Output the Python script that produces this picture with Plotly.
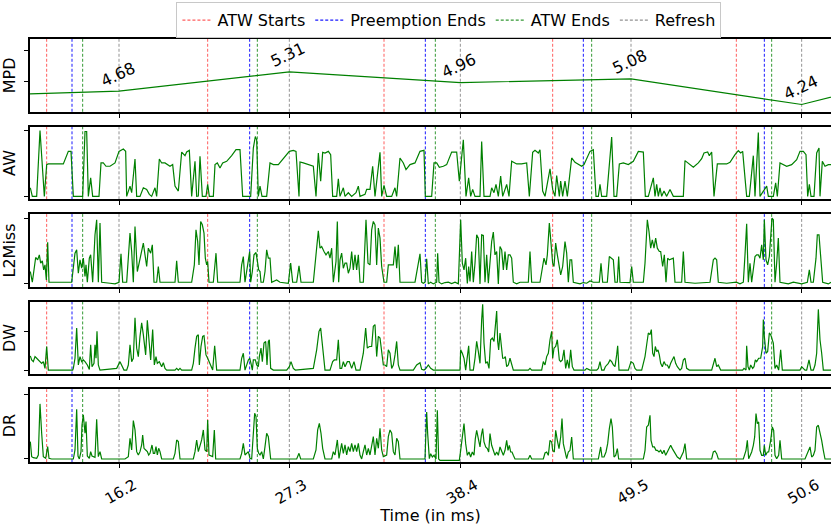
import plotly.graph_objects as go
from plotly.subplots import make_subplots

# ---- x axis: sample index, labelled in ms at each refresh ----
X_RANGE = [0, 2403]
TICK_IDX = [267, 778, 1291, 1803, 2315]
TICK_TEXT = ["16.2", "27.3", "38.4", "49.5", "50.6"]

# ---- event markers (sample index) ----
ATW_START = [50, 533, 1062, 1568, 2119]
PREEMPT_END = [126, 659, 1186, 1660, 2203]
ATW_END = [158, 682, 1216, 1685, 2225]
REFRESH = [267, 778, 1291, 1803, 2315]

# ---- MPD per refresh ----
MPD_IDX = [-245, 267, 778, 1291, 1803, 2315, 2827]
MPD_VAL = [4.51, 4.68, 5.31, 4.96, 5.08, 4.24, 5.65]

# ---- AW (active warps) ----
AW_IDX = [1, 7, 20, 30, 43, 50, 55, 100, 115, 123, 130, 158, 165, 170, 175, 182, 188, 207, 213, 220,
          228, 240, 255, 267, 280, 287, 290, 300, 305, 315, 320, 330, 340, 350, 358, 365, 375, 380, 388, 395,
          405, 420, 428, 435, 445, 455, 465, 470, 478, 485, 495, 500, 505, 510, 517, 528, 533, 538, 550, 555,
          562, 570, 578, 590, 605, 618, 630, 638, 662, 670, 676, 680, 685, 690, 696, 710, 720, 730, 745, 765,
          778, 790, 798, 807, 810, 820, 835, 850, 858, 865, 872, 878, 885, 895, 902, 908, 920, 925, 930, 940,
          945, 955, 965, 978, 985, 990, 1005, 1010, 1020, 1028, 1035, 1042, 1050, 1055, 1062, 1070, 1085, 1095,
          1100, 1110, 1120, 1128, 1135,
          1140, 1155, 1170, 1182, 1186, 1205, 1212, 1220, 1228, 1240, 1250, 1265, 1280, 1288, 1292, 1300, 1308,
          1316, 1322, 1328, 1335, 1350, 1355, 1362, 1380, 1385, 1392, 1398, 1405, 1412, 1418, 1430, 1437, 1445,
          1460, 1475, 1490, 1498, 1508, 1515, 1525, 1530, 1538, 1545, 1560, 1568, 1575, 1580, 1588, 1592, 1598,
          1605, 1612, 1625, 1635, 1645, 1655, 1662, 1670, 1680, 1690, 1698, 1705, 1710, 1715, 1730, 1745, 1752,
          1760, 1768, 1780, 1795, 1810, 1825, 1840, 1846, 1855, 1870, 1875, 1880, 1885, 1890, 1895, 1902, 1910,
          1920, 1930, 1960, 1965, 1978, 1990, 2005, 2015, 2022, 2033, 2038, 2045, 2052, 2062, 2090, 2100, 2115,
          2125, 2132, 2138, 2145, 2150, 2158, 2170, 2175, 2185, 2190, 2198, 2203, 2210, 2215, 2230, 2237, 2242,
          2250, 2258, 2270, 2285, 2300, 2310, 2320, 2328, 2333, 2338, 2343, 2352, 2360, 2367, 2370, 2377, 2385,
          2395, 2403]
AW_VAL = [26, 0, 0, 199, 0, 96, 98, 98, 136, 136, 0, 0, 196, 196, 0, 56, 0, 0, 101, 101,
          91, 91, 101, 136, 143, 136, 0, 31, 11, 113, 0, 0, 26, 21, 6, 0, 26, 0, 113, 101,
          101, 91, 96, 31, 16, 134, 123, 134, 139, 0, 106, 0, 1, 121, 0, 0, 36, 0, 0, 96,
          101, 86, 101, 106, 123, 141, 141, 0, 0, 146, 181, 171, 0, 31, 0, 0, 101, 96, 96, 121,
          136, 139, 136, 0, 104, 101, 96, 91, 0, 131, 46, 133, 131, 136, 126, 0, 0, 53, 0, 26,
          0, 11, 0, 11, 31, 0, 6, 21, 21, 91, 0, 71, 133, 0, 33, 0, 0, 26,
          0, 116, 101, 81, 91,
          96, 101, 136, 139, 0, 0, 101, 101, 88, 91, 96, 134, 134, 46, 86, 171, 0,
          56, 0, 21, 0, 0, 166, 0, 0, 26, 11, 36, 0, 61, 0, 36, 0, 106,
          98, 98, 101, 0, 133, 139, 131, 141, 16, 0, 83, 21, 0, 63, 0, 46, 0,
          46, 0, 116, 103, 96, 91, 96, 116, 136, 141, 0, 0, 36, 0, 0, 179, 0,
          0, 98, 101, 96, 106, 136, 134, 0, 0, 56, 0, 36, 0, 26, 0, 16, 0,
          21, 0, 0, 108, 98, 88, 101, 114, 131, 134, 123, 134, 0, 98, 98, 103, 126,
          138, 131, 136, 56, 0, 0, 123, 0, 193, 0, 13, 23, 31, 0, 0, 41, 0,
          101, 96, 91, 96, 111, 136, 136, 126, 0, 36, 0, 0, 131, 146, 0, 106, 91,
          96, 96]

# ---- L2 misses ----
L2_IDX = [1, 7, 17, 23, 28, 32, 37, 41, 45, 49, 53, 57, 125, 128, 135, 140, 145, 150, 155, 160,
          165, 168, 172, 178, 182, 188, 195, 200, 205, 210, 215, 240, 255, 267, 273, 278, 290, 300, 305, 310,
          315, 322, 330, 335, 340, 345, 350, 355, 362, 367, 372, 380, 385, 390, 435, 440, 445, 485, 493, 498,
          503, 507, 512, 517, 522, 526, 530, 533, 537, 550, 558, 563, 630, 635, 640, 645, 655, 659, 662, 667,
          672, 678, 683, 686, 690, 693, 700, 705, 710, 715, 720, 725, 740, 750, 775, 782, 788, 800, 807, 813,
          850, 858, 865, 870, 875, 882, 888, 895, 900, 905, 910, 918, 922, 926, 930, 935, 940, 945, 950, 955,
          960, 965, 970, 975, 980, 985, 990, 1000, 1008, 1014, 1020, 1025, 1030, 1035, 1040, 1045, 1050, 1055,
          1062, 1070, 1075, 1090, 1095, 1100, 1105, 1110, 1140,
          1155, 1170, 1175, 1180, 1185, 1190, 1195, 1202, 1210, 1220, 1223, 1227, 1235, 1245, 1255, 1265, 1275,
          1285, 1292, 1297, 1302, 1307, 1312, 1316, 1320, 1325, 1330, 1335, 1340, 1345, 1350, 1355, 1360, 1365,
          1370, 1375, 1380, 1385, 1390, 1395, 1400, 1405, 1410, 1415, 1420, 1425, 1430, 1435, 1440, 1445, 1450,
          1460, 1470, 1495, 1500, 1505, 1530, 1538, 1542, 1548, 1552, 1558, 1563, 1568, 1572, 1577, 1582, 1587,
          1592, 1598, 1605, 1610, 1615, 1620, 1625, 1630, 1650, 1660, 1670, 1680, 1690, 1708, 1713, 1718, 1732,
          1738, 1745, 1750, 1755, 1762, 1766, 1770, 1800, 1805, 1810, 1840, 1845, 1852, 1857, 1862, 1867, 1872,
          1877, 1882, 1888, 1892, 1898, 1903, 1908, 1913, 1918, 1930, 1935, 1955, 1960, 1965, 1995, 2040, 2050,
          2055, 2060, 2065, 2090, 2119, 2130, 2140, 2145, 2150, 2155, 2160, 2165, 2175, 2180, 2185, 2190, 2195,
          2200, 2203, 2208, 2213, 2218, 2222, 2226, 2230, 2235, 2240, 2245, 2250, 2275, 2290, 2315, 2332, 2338,
          2343, 2350, 2358, 2362, 2367, 2372, 2378, 2395, 2403]
L2_VAL = [37, 5, 79, 72, 87, 62, 69, 42, 57, 12, 125, 5, 5, 32, 92, 102, 32, 72, 47, 77,
          22, 57, 5, 77, 87, 5, 147, 192, 5, 182, 5, 2, 0, 5, 90, 5, 5, 152, 97, 5,
          172, 37, 77, 97, 122, 87, 52, 107, 92, 117, 5, 5, 52, 5, 5, 69, 5, 5, 57, 162,
          127, 57, 187, 177, 152, 77, 57, 67, 5, 5, 92, 5, 5, 57, 82, 5, 77, 97, 5, 37,
          87, 94, 62, 42, 37, 5, 5, 37, 102, 77, 77, 5, 12, 5, 2, 62, 5, 5, 54, 5,
          5, 97, 159, 107, 112, 97, 87, 97, 77, 107, 5, 67, 187, 5, 72, 92, 47, 62, 62, 32,
          47, 97, 42, 87, 42, 87, 5, 5, 192, 62, 57, 162, 187, 177, 57, 167, 137, 52,
          5, 5, 57, 57, 112, 47, 117, 5, 5,
          5, 90, 5, 2, 5, 75, 0, 5, 0, 5, 92, 5, 0, 4, 5, 1, 5,
          0, 192, 62, 42, 77, 1, 52, 7, 97, 5, 62, 147, 137, 0, 147, 145, 5,
          87, 2, 62, 127, 155, 87, 97, 0, 112, 102, 42, 97, 42, 87, 87, 77, 5,
          0, 5, 5, 97, 5, 5, 47, 77, 57, 87, 182, 117, 62, 52, 122, 87, 52,
          27, 52, 127, 92, 5, 72, 72, 5, 0, 4, 2, 9, 5, 5, 62, 5, 5,
          82, 77, 72, 5, 5, 82, 5, 4, 52, 5, 5, 62, 192, 157, 107, 132, 107,
          137, 107, 97, 97, 52, 87, 5, 77, 72, 77, 5, 5, 97, 5, 2, 5, 72,
          77, 72, 5, 2, 5, 0, 5, 87, 180, 5, 62, 5, 82, 87, 87, 77, 117,
          72, 192, 72, 57, 82, 157, 197, 192, 5, 62, 137, 5, 0, 5, 0, 5, 42,
          5, 5, 77, 147, 147, 87, 5, 0, 5]

# ---- DRAM writes ----
DW_IDX = [1, 5, 10, 15, 20, 25, 30, 35, 40, 45, 50, 55, 128, 130, 135, 140, 145, 150, 155, 160,
          165, 172, 178, 182, 186, 192, 195, 198, 201, 205, 210, 260, 270, 275, 282, 290, 295, 300, 305, 310,
          315, 320, 325, 330, 335, 340, 347, 352, 357, 362, 368, 373, 378, 382, 388, 395, 400, 405, 410, 435,
          440, 445, 450, 455, 485, 490, 495, 500, 505, 508, 513, 518, 522, 528, 533, 537, 542, 548, 554, 560,
          630, 635, 640, 645, 655, 659, 663, 667, 670, 676, 680, 685, 688, 693, 697, 702, 707, 711, 715, 718,
          722, 730, 770, 778, 783, 790, 796, 850, 860, 867, 872, 878, 885, 900, 908, 913, 920, 925, 930, 935,
          940, 945, 952, 958, 965, 972, 978, 990, 1000, 1007, 1012, 1018, 1025, 1030, 1035, 1040, 1045, 1050,
          1055, 1060, 1065, 1070, 1075, 1080, 1085, 1090, 1095, 1100, 1105, 1110, 1140,
          1150, 1160, 1170, 1175, 1182, 1188, 1195, 1202, 1210, 1290, 1292, 1297, 1302, 1307, 1312, 1316, 1320,
          1330, 1335, 1340, 1345, 1350, 1355, 1358, 1362, 1367, 1372, 1377, 1382, 1387, 1392, 1397, 1400, 1403,
          1406, 1410, 1414, 1418, 1422, 1426, 1430, 1435, 1440, 1445, 1450, 1495, 1500, 1505, 1535, 1540, 1545,
          1550, 1555, 1560, 1565, 1568, 1572, 1577, 1582, 1588, 1592, 1597, 1602, 1607, 1612, 1617, 1622, 1627,
          1632, 1665, 1670, 1680, 1700, 1705, 1710, 1715, 1722, 1726, 1730, 1735, 1740, 1745, 1750, 1755, 1760,
          1763, 1767, 1795, 1803, 1810, 1815, 1820, 1835, 1845, 1850, 1855, 1860, 1864, 1868, 1872, 1876, 1880,
          1884, 1888, 1892, 1897, 1902, 1907, 1912, 1917, 1922, 1927, 1932, 1937, 1942, 1950, 1955, 1960, 1965,
          1970, 1978, 2045, 2050, 2055, 2060, 2065, 2072, 2125, 2133, 2138, 2142, 2148, 2150, 2154, 2158, 2162,
          2168, 2172, 2176, 2180, 2186, 2192, 2198, 2200, 2203, 2208, 2213, 2218, 2222, 2226, 2230, 2235, 2240,
          2246, 2252, 2257, 2310, 2315, 2320, 2325, 2330, 2337, 2343, 2350, 2355, 2360, 2365, 2370, 2375, 2380,
          2403]
DW_VAL = [42, 30, 25, 40, 35, 30, 25, 20, 25, 5, 70, 0, 0, 5, 35, 125, 15, 40, 25, 30,
          25, 15, 2, 75, 10, 20, 75, 35, 115, 15, 0, 5, 25, 15, 0, 0, 15, 75, 25, 35,
          155, 65, 40, 100, 140, 105, 45, 148, 90, 30, 120, 15, 40, 20, 25, 10, 22, 5, 0, 0,
          5, 0, 5, 0, 0, 20, 65, 100, 105, 15, 70, 100, 102, 45, 35, 25, 10, 0, 72, 0,
          0, 35, 50, 0, 30, 35, 20, 0, 30, 30, 15, 10, 40, 65, 25, 80, 85, 15, 85, 90,
          5, 0, 0, 10, 25, 5, 0, 5, 60, 115, 125, 60, 0, 0, 25, 30, 30, 90, 5, 5,
          25, 10, 25, 25, 5, 25, 0, 0, 50, 125, 65, 70, 70, 130, 135, 40, 100, 95,
          50, 15, 15, 10, 60, 50, 5, 15, 45, 85, 15, 0, 0,
          0, 15, 22, 2, 0, 5, 15, 5, 0, 0, 60, 50, 35, 0, 35, 72, 0,
          0, 35, 85, 55, 20, 150, 195, 80, 20, 25, 5, 90, 95, 85, 130, 175, 85,
          60, 110, 65, 35, 35, 40, 10, 15, 35, 15, 0, 0, 5, 0, 0, 25, 15,
          40, 50, 90, 115, 35, 65, 70, 90, 30, 25, 30, 60, 5, 30, 5, 60, 10,
          0, 0, 5, 0, 0, 5, 25, 0, 0, 10, 15, 20, 30, 25, 15, 10, 45,
          72, 0, 0, 25, 20, 5, 0, 0, 40, 75, 110, 105, 120, 50, 40, 70, 55,
          60, 45, 20, 10, 25, 15, 15, 5, 20, 30, 40, 20, 10, 0, 5, 30, 35,
          5, 0, 0, 20, 35, 10, 15, 0, 0, 0, 0, 5, 0, 72, 10, 0, 15,
          5, 10, 30, 25, 35, 35, 70, 150, 100, 50, 55, 110, 105, 90, 80, 5, 15,
          0, 60, 0, 0, 10, 5, 0, 0, 30, 0, 0, 15, 50, 180, 90, 50, 0,
          0]

# ---- DRAM reads ----
DR_IDX = [1, 5, 10, 20, 25, 30, 35, 40, 47, 53, 57, 65, 125, 130, 135, 140, 144, 148, 153, 156,
          160, 165, 168, 172, 178, 182, 186, 195, 200, 205, 210, 215, 285, 295, 300, 305, 310, 315, 320, 325,
          330, 335, 338, 342, 347, 352, 356, 360, 366, 370, 374, 378, 382, 386, 390, 395, 430, 435, 440, 445,
          450, 490, 495, 500, 505, 510, 515, 520, 525, 530, 533, 537, 548, 553, 557, 630, 635, 640, 645, 655,
          660, 665, 670, 674, 678, 682, 686, 690, 695, 700, 705, 710, 715, 718, 722, 800, 807, 812, 850, 858,
          863, 868, 873, 878, 885, 905, 910, 915, 922, 927, 930, 935, 940, 945, 950, 955, 960, 965, 970, 975,
          980, 985, 990, 995, 1000, 1005, 1010, 1015, 1020, 1025, 1030, 1035, 1040, 1045, 1050, 1055, 1060, 1070,
          1075, 1080, 1085, 1090, 1095, 1100, 1105, 1110, 1140,
          1180, 1185, 1188, 1190, 1193, 1198, 1202, 1207, 1212, 1218, 1222, 1226, 1230, 1288, 1292, 1297, 1302,
          1307, 1312, 1317, 1322, 1327, 1332, 1336, 1340, 1345, 1350, 1354, 1358, 1362, 1367, 1372, 1376, 1380,
          1385, 1390, 1395, 1400, 1405, 1410, 1415, 1420, 1425, 1430, 1434, 1438, 1442, 1446, 1450, 1455, 1495,
          1500, 1505, 1540, 1545, 1550, 1555, 1560, 1565, 1568, 1573, 1577, 1582, 1587, 1592, 1596, 1600, 1605,
          1610, 1615, 1620, 1625, 1630, 1705, 1712, 1716, 1722, 1728, 1733, 1738, 1743, 1747, 1752, 1757, 1762,
          1766, 1840, 1845, 1850, 1855, 1860, 1863, 1868, 1873, 1878, 1882, 1887, 1892, 1897, 1902, 1907, 1912,
          1917, 1922, 1927, 1932, 1937, 1942, 1950, 1955, 1960, 1965, 1970, 2045, 2050, 2055, 2060, 2065, 2140,
          2148, 2152, 2156, 2160, 2165, 2170, 2174, 2178, 2182, 2186, 2190, 2195, 2200, 2203, 2207, 2212, 2216,
          2222, 2227, 2231, 2235, 2240, 2246, 2250, 2255, 2325, 2335, 2340, 2345, 2350, 2355, 2360, 2365, 2370,
          2375, 2380, 2385, 2403]
DR_VAL = [52, 7, 4, 2, 12, 165, 77, 7, 2, 37, 2, 0, 0, 0, 27, 149, 9, 0, 22, 102,
          132, 77, 112, 9, 2, 22, 9, 5, 119, 7, 22, 0, 0, 7, 62, 27, 115, 87, 22, 12,
          22, 42, 72, 32, 27, 22, 12, 17, 42, 17, 17, 37, 12, 32, 22, 0, 0, 17, 57, 52,
          0, 0, 22, 57, 22, 42, 57, 87, 27, 22, 117, 12, 7, 87, 0, 0, 17, 47, 12, 22,
          2, 0, 87, 137, 127, 32, 17, 12, 22, 0, 37, 77, 67, 37, 0, 0, 17, 0, 0, 27,
          87, 107, 77, 32, 0, 0, 22, 12, 57, 2, 22, 47, 17, 42, 12, 37, 22, 47, 22, 42,
          22, 47, 12, 0, 22, 42, 12, 32, 12, 42, 67, 12, 62, 32, 92, 27, 7, 12,
          67, 87, 77, 22, 12, 62, 52, 0, 0,
          0, 0, 86, 141, 76, 1, 16, 6, 11, 0, 146, 0, -4, -4, 26, 76, 106,
          46, 11, 21, 6, 21, 11, 61, 86, 61, 36, 71, 91, 51, 36, 31, 21, 76,
          41, 26, 11, 21, 11, 36, 21, 11, 26, 56, 26, 41, 21, 21, 11, 0, 0,
          11, 0, 0, 18, 21, 11, 56, 51, 26, 21, 86, 56, 31, 66, 121, 46, 21,
          1, 21, 26, 66, 0, 0, 36, 6, 6, 21, 46, 91, 121, 96, 6, 11, 31,
          0, 0, 26, 96, 101, 131, 56, 36, 36, 26, 26, 21, 26, 16, 26, 11, 21,
          31, 41, 31, 21, 11, 6, 0, 11, 21, 46, 0, 0, 21, 24, 16, 0, 0,
          26, 56, 1, 11, 21, 41, 66, 136, 106, 111, 26, 11, 11, 41, 11, 21, 21,
          56, 96, 86, 11, 1, 11, 56, 0, 0, 21, 36, 6, 11, 26, 96, 101, 81,
          56, 26, 0, 0]

FONT = "DejaVu Sans"
LINE_GREEN = "#008000"

panels = [
    ("MPD", MPD_IDX, MPD_VAL, [4.0, 6.39], [5, 6]),
    ("AW", AW_IDX, AW_VAL, [-9, 211], [0, 199]),
    ("L2Miss", L2_IDX, L2_VAL, [-9, 209], [0, 197]),
    ("DW", DW_IDX, DW_VAL, [-13, 203], [0, 114]),
    ("DR", DR_IDX, DR_VAL, [-9, 209], [0, 194]),
]

fig = make_subplots(rows=5, cols=1, shared_xaxes=True, vertical_spacing=0.0349)

for r, (name, xs, ys, yr, yt) in enumerate(panels, start=1):
    fig.add_trace(go.Scatter(x=xs, y=ys, mode="lines",
                             line=dict(color=LINE_GREEN, width=1.2),
                             showlegend=False, hoverinfo="skip"), row=r, col=1)
    fig.update_yaxes(row=r, col=1, range=yr, tickvals=yt, showticklabels=False,
                     ticks="outside", ticklen=4, tickcolor="black", automargin=False,
                     showgrid=False, zeroline=False, showline=True, mirror=True,
                     linecolor="black", linewidth=1.5,
                     title=dict(text=name, font=dict(family=FONT, size=16, color="black"),
                                standoff=5))
    fig.update_xaxes(row=r, col=1, range=X_RANGE, tickvals=TICK_IDX, ticktext=TICK_TEXT,
                     ticks="outside", ticklen=4, tickcolor="black", automargin=False,
                     showgrid=False, zeroline=False, showline=True, mirror=True,
                     linecolor="black", linewidth=1.5, showticklabels=(r == 5))

fig.update_xaxes(row=5, col=1, tickangle=-30, ticklabelshift=15, ticklabelstandoff=3,
                 tickfont=dict(family=FONT, size=15, color="black"),
                 title=dict(text="Time (in ms)", font=dict(family=FONT, size=16, color="black"),
                            standoff=36))

# event markers drawn across every panel
events = [
    ("ATW Starts", ATW_START, "rgba(255,40,40,0.75)"),
    ("Preemption Ends", PREEMPT_END, "rgba(0,0,255,0.9)"),
    ("ATW Ends", ATW_END, "rgba(0,128,0,0.8)"),
    ("Refresh", REFRESH, "rgba(110,110,110,0.75)"),
]
for label, xs, color in events:
    for r in range(1, 6):
        xref = "x" if r == 1 else f"x{r}"
        yref = "y domain" if r == 1 else f"y{r} domain"
        for xv in xs:
            fig.add_shape(type="line", x0=xv, x1=xv, y0=0, y1=1, xref=xref, yref=yref,
                          line=dict(color=color, width=1, dash="3px,2px"), layer="below")
    fig.add_trace(go.Scatter(x=[None], y=[None], mode="lines", name=label,
                             line=dict(color=color, width=1.2, dash="3px,2px")), row=1, col=1)

# MPD value labels at each refresh
for xv, yv in zip(MPD_IDX, MPD_VAL):
    if X_RANGE[0] <= xv <= X_RANGE[1]:
        fig.add_annotation(x=xv, y=yv, xref="x", yref="y", text=f"{yv:.2f}",
                           showarrow=False, textangle=-25, yshift=17, xshift=-1,
                           font=dict(family=FONT, size=16, color="black"))

fig.update_layout(
    width=831, height=525,
    margin=dict(l=30, r=0, t=39, b=63, autoexpand=False),
    paper_bgcolor="white", plot_bgcolor="white",
    showlegend=True,
    legend=dict(orientation="h", x=0.523, xanchor="center", y=1.002, yanchor="bottom",
                bordercolor="#c8c8c8", borderwidth=1, bgcolor="white",
                font=dict(family=FONT, size=16, color="black"),
                itemwidth=30, tracegroupgap=0),
    font=dict(family=FONT, color="black"),
)

fig.write_html("out.html")
